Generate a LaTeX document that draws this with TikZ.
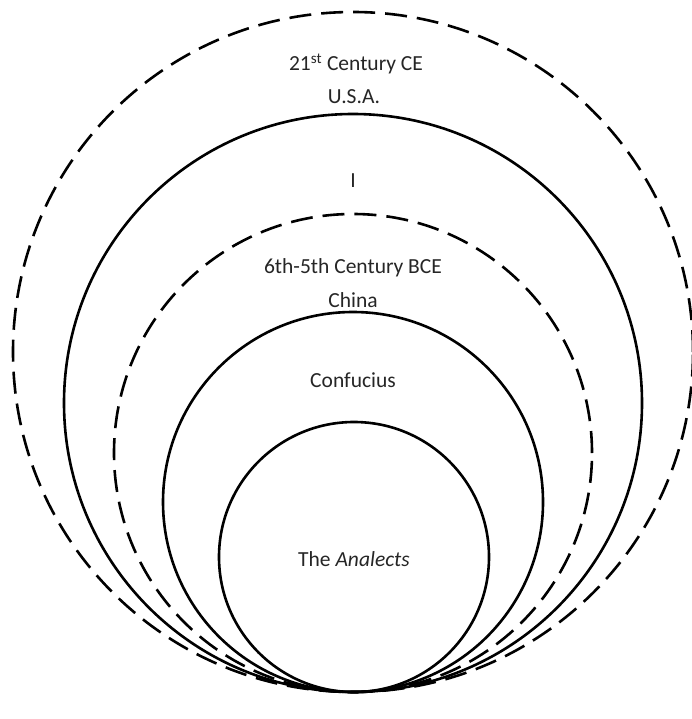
\documentclass[tikz,border=0pt]{standalone}
\usepackage{fontspec}
\setmainfont{Carlito}
\begin{document}
\begin{tikzpicture}[x=1pt,y=-1pt,
  ring/.style={circle,draw=black,line width=2.6pt,inner sep=0pt,minimum size=#1},
  dashring/.style={ring=#1,dash pattern=on 22pt off 10pt},
  lbl/.style={anchor=base,inner sep=0pt,text=black!85,font=\fontsize{21.5}{26}\selectfont}]
\useasboundingbox[fill=white] (0,0) rectangle (691,719);
\node[dashring=680pt] (c1) at (353,352) {};
\node[ring=578pt] (c2) at (353,403) {};
\node[dashring=478pt] (c3) at (353,453) {};
\node[ring=380pt] (c4) at (353,502) {};
\node[ring=270pt] (c5) at (354,557) {};
\node[lbl] (t1) at (356,71) {21\textsuperscript{st} Century CE};
\node[lbl] (t2) at (354,104) {U.S.A.};
\node[lbl] (t3) at (353,188) {I};
\node[lbl] (t4) at (353,273) {6th-5th Century BCE};
\node[lbl] (t5) at (353,307) {China};
\node[lbl] (t6) at (353,387) {Confucius};
\node[lbl] (t7) at (354,566) {The \textit{Analects}};
\end{tikzpicture}
\end{document}
